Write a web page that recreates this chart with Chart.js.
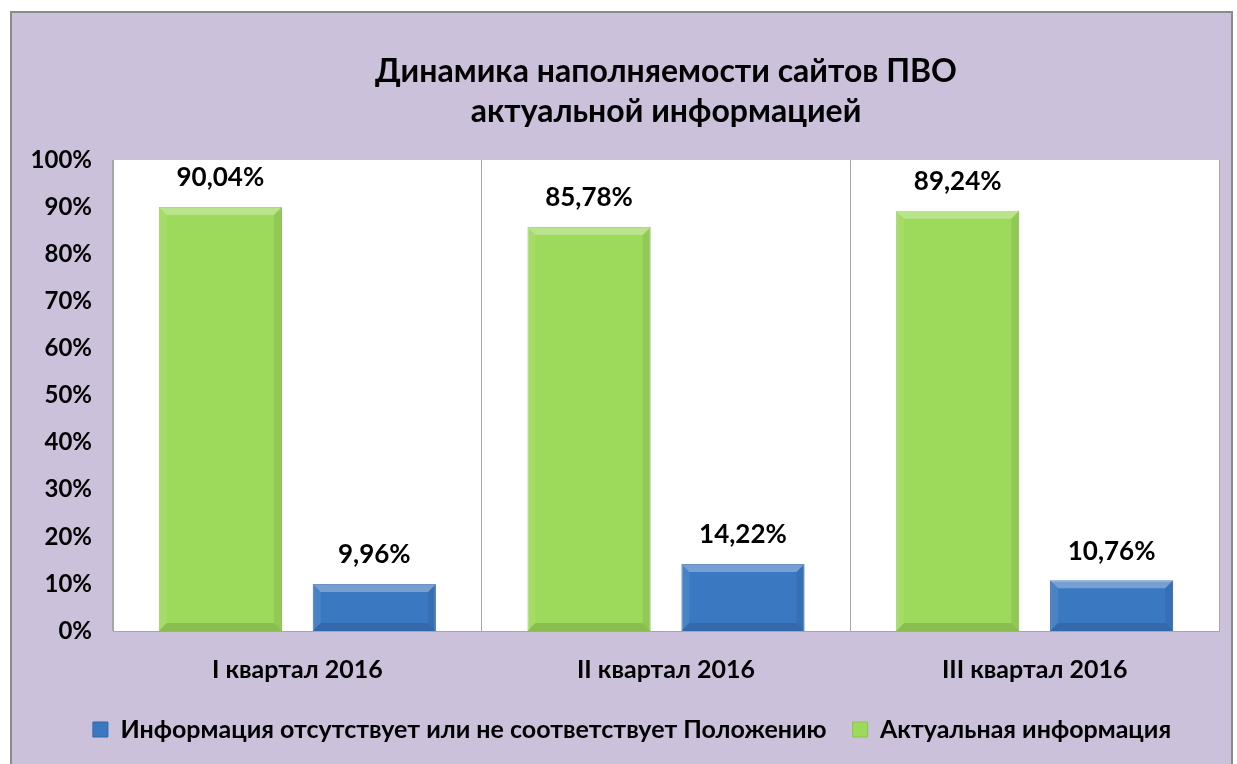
<!DOCTYPE html>
<html>
<head>
<meta charset="utf-8">
<script src="https://cdn.jsdelivr.net/npm/chart.js@4/dist/chart.umd.min.js"></script>
<style>
    html, body { margin: 0; padding: 0; background: #fff; }
</style>
</head>
<body>
<canvas id="myChart" width="1237" height="764"></canvas>
<script>
// chart data
const quarters = ['I квартал 2016', 'II квартал 2016', 'III квартал 2016'];
const actualInfo = [90.04, 85.78, 89.24];
const missingInfo = [9.96, 14.22, 10.76];
const seriesNames = ['Актуальная информация', 'Информация отсутствует или не соответствует Положению'];
const titleLines = ['Динамика наполняемости сайтов ПВО', 'актуальной информацией'];

const FONT = 'Lato, "Noto Sans", sans-serif';

// lavender frame + white plot area
const framePlugin = {
    id: 'frame',
    beforeDraw: function (chart) {
        var ctx = chart.ctx;
        var a = chart.chartArea;
        ctx.save();
        ctx.fillStyle = '#ffffff';
        ctx.fillRect(0, 0, chart.width, chart.height);
        ctx.fillStyle = '#ccc1da';
        ctx.fillRect(11, 12, chart.width - 16, chart.height - 12);
        ctx.strokeStyle = '#8a8a8a';
        ctx.lineWidth = 2;
        ctx.strokeRect(11, 12, chart.width - 16, chart.height + 10);
        ctx.fillStyle = '#ffffff';
        ctx.fillRect(a.left, a.top, a.right - a.left, a.bottom - a.top);
        ctx.restore();
    }
};

// nudge the legend a bit to the right, like in the original
const legendShift = {
    id: 'legendShift',
    afterLayout: function (chart) {
        if (chart.legend) {
            chart.legend.left += 8;
            chart.legend.right += 8;
        }
    }
};

// bevel look on the bars and the value labels above them
const barExtras = {
    id: 'barExtras',
    afterDatasetsDraw: function (chart) {
        var ctx = chart.ctx;
        ctx.save();
        chart.data.datasets.forEach(function (ds, i) {
            var meta = chart.getDatasetMeta(i);
            meta.data.forEach(function (bar, j) {
                var p = bar.getProps(['x', 'y', 'base', 'width'], true);
                var l = p.x - p.width / 2, r = p.x + p.width / 2, t = p.y, b = p.base;
                var bv = 8;

                ctx.fillStyle = 'rgba(255,255,255,0.3)';
                ctx.beginPath();
                ctx.moveTo(l, t); ctx.lineTo(r, t); ctx.lineTo(r - bv, t + bv); ctx.lineTo(l + bv, t + bv);
                ctx.closePath(); ctx.fill();

                ctx.fillStyle = 'rgba(255,255,255,0.08)';
                ctx.beginPath();
                ctx.moveTo(l, t); ctx.lineTo(l + bv, t + bv); ctx.lineTo(l + bv, b - bv); ctx.lineTo(l, b);
                ctx.closePath(); ctx.fill();

                ctx.fillStyle = 'rgba(0,0,0,0.07)';
                ctx.beginPath();
                ctx.moveTo(r, t); ctx.lineTo(r - bv, t + bv); ctx.lineTo(r - bv, b - bv); ctx.lineTo(r, b);
                ctx.closePath(); ctx.fill();

                ctx.fillStyle = 'rgba(0,0,0,0.12)';
                ctx.beginPath();
                ctx.moveTo(l, b); ctx.lineTo(r, b); ctx.lineTo(r - bv, b - bv); ctx.lineTo(l + bv, b - bv);
                ctx.closePath(); ctx.fill();

                var txt = ds.data[j].toFixed(2).replace('.', ',') + '%';
                ctx.fillStyle = '#000';
                ctx.font = 'bold 26px ' + FONT;
                ctx.textAlign = 'center';
                ctx.textBaseline = 'middle';
                ctx.fillText(txt, p.x, t - 29);
            });
        });
        ctx.restore();
    }
};

var ctx = document.getElementById('myChart').getContext('2d');

new Chart(ctx, {
    type: 'bar',
    data: {
        labels: quarters,
        datasets: [{
            label: seriesNames[0],
            data: actualInfo,
            backgroundColor: '#9dd95b',
            borderColor: '#8cc44f',
            borderWidth: 1
        },
        {
            label: seriesNames[1],
            data: missingInfo,
            backgroundColor: '#3b78c2',
            borderColor: '#2f64a6',
            borderWidth: 1
        }]
    },
    options: {
        responsive: false,
        animation: false,
        categoryPercentage: 0.835,
        barPercentage: 0.8,
        layout: {
            padding: { top: 52, left: 29, right: 18, bottom: 12 }
        },
        plugins: {
            tooltip: { enabled: false },
            title: {
                display: true,
                fullSize: false,
                text: titleLines,
                color: '#000',
                font: { family: FONT, size: 32, weight: 'bold', lineHeight: 1.25 },
                padding: { top: 0, bottom: 28 }
            },
            legend: {
                position: 'bottom',
                reverse: true,
                labels: {
                    color: '#000',
                    boxWidth: 15,
                    boxHeight: 15,
                    padding: 26,
                    font: { family: FONT, size: 25, weight: 'bold' }
                }
            }
        },
        scales: {
            x: {
                grid: { color: '#a6a6a6', drawTicks: false, offset: true },
                border: { color: '#a6a6a6' },
                ticks: {
                    color: '#000',
                    padding: 24,
                    font: { family: FONT, size: 25, weight: 'bold' }
                },
                afterFit: function (scale) {
                    scale.height -= 18;
                }
            },
            y: {
                min: 0,
                max: 100,
                grid: { display: false, drawTicks: false },
                border: { color: '#a6a6a6' },
                ticks: {
                    stepSize: 10,
                    color: '#000',
                    padding: 21,
                    font: { family: FONT, size: 24, weight: 'bold' },
                    callback: function (value) {
                        return value + '%';
                    }
                },
                afterFit: function (scale) {
                    scale.width = 84;
                }
            }
        }
    },
    plugins: [framePlugin, legendShift, barExtras]
});
</script>
</body>
</html>
